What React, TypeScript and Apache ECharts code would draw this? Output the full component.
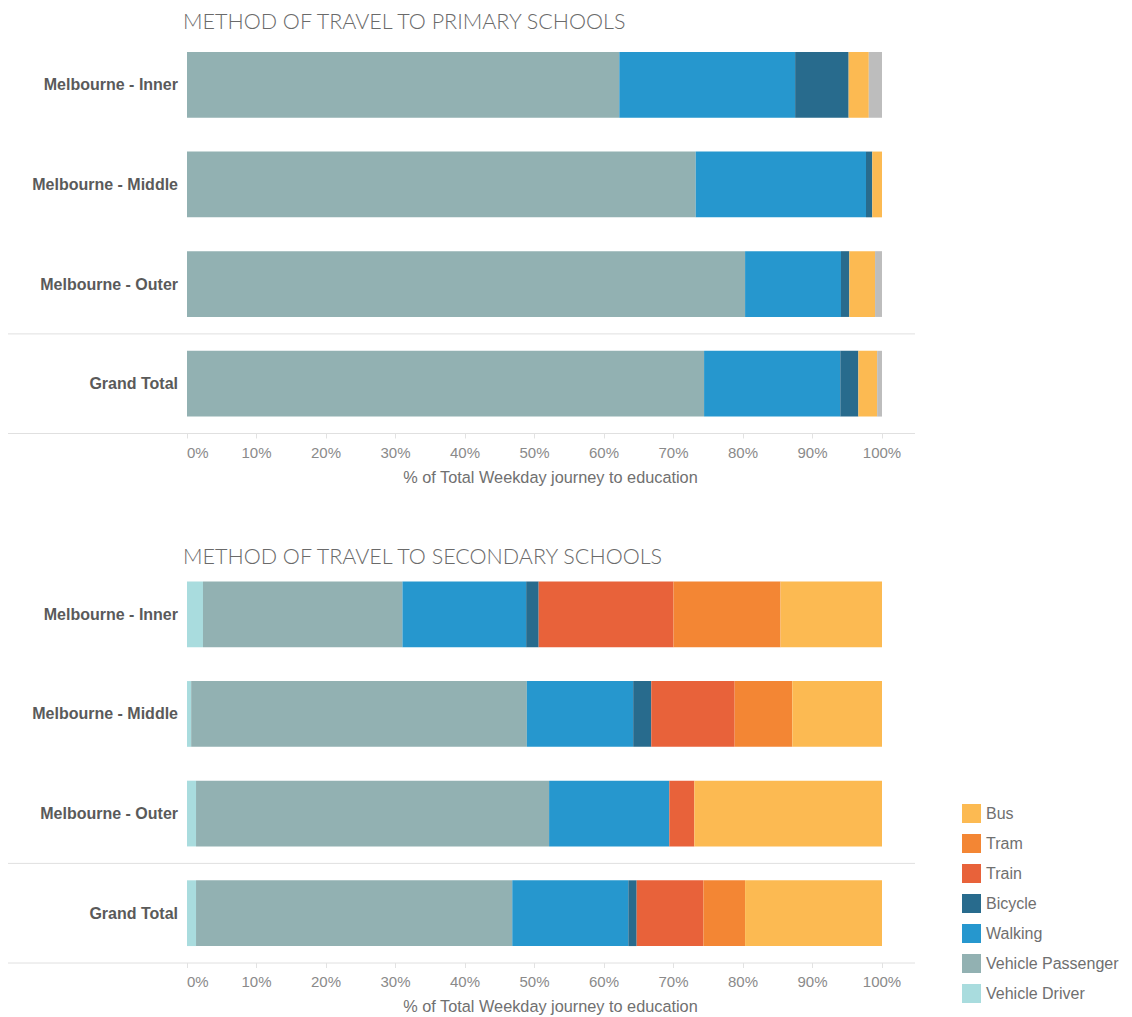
import React, { useEffect, useRef } from "react";
import * as echarts from "echarts";

const categories = ["Melbourne - Inner", "Melbourne - Middle", "Melbourne - Outer", "Grand Total"];
const modes = ["Vehicle Driver", "Vehicle Passenger", "Walking", "Bicycle", "Train", "Tram", "Bus", "Other"];
const legendOrder = ["Bus", "Tram", "Train", "Bicycle", "Walking", "Vehicle Passenger", "Vehicle Driver"];
const modeColors = ["#A9DCDE", "#92B1B2", "#2697CE", "#286B8D", "#E8623A", "#F38634", "#FCBA52", "#BDBDBD"];

// Primary schools (% of total weekday journeys)
const primaryDriver = [0, 0, 0, 0];
const primaryPassenger = [62.2, 73.2, 80.3, 74.4];
const primaryWalking = [25.3, 24.5, 13.8, 19.6];
const primaryBicycle = [7.7, 0.9, 1.2, 2.6];
const primaryTrain = [0, 0, 0, 0];
const primaryTram = [0, 0, 0, 0];
const primaryBus = [2.9, 1.4, 3.7, 2.7];
const primaryOther = [1.9, 0, 1.0, 0.7];

// Secondary schools
const secondaryDriver = [2.3, 0.6, 1.3, 1.3];
const secondaryPassenger = [28.7, 48.3, 50.8, 45.5];
const secondaryWalking = [17.8, 15.3, 17.3, 16.7];
const secondaryBicycle = [1.8, 2.6, 0, 1.2];
const secondaryTrain = [19.4, 12.0, 3.6, 9.6];
const secondaryTram = [15.4, 8.3, 0, 6.0];
const secondaryBus = [14.6, 12.9, 27.0, 19.7];
const secondaryOther = [0, 0, 0, 0];

const titles = ["METHOD OF TRAVEL TO PRIMARY SCHOOLS", "METHOD OF TRAVEL TO SECONDARY SCHOOLS"];
const axisTitle = "% of Total Weekday journey to education";

const primaryData = [primaryDriver, primaryPassenger, primaryWalking, primaryBicycle, primaryTrain, primaryTram, primaryBus, primaryOther];
const secondaryData = [secondaryDriver, secondaryPassenger, secondaryWalking, secondaryBicycle, secondaryTrain, secondaryTram, secondaryBus, secondaryOther];

export default function App() {
  const ref = useRef<HTMLDivElement>(null);
  useEffect(() => {
    if (!ref.current) return;
    const chart = echarts.init(ref.current, null, { renderer: "svg" });
    const gridTops = [35, 564.5];
    const gridH = 398.5;
    const font = "Liberation Sans, Arial, sans-serif";
    const xAxes = [0, 1].map((i) => ({
      type: "value",
      gridIndex: i,
      min: 0,
      max: 100,
      interval: 10,
      axisLine: { show: false },
      axisTick: { show: true, length: 5, lineStyle: { color: "#e2e2e2" } },
      splitLine: { show: false },
      axisLabel: {
        formatter: "{value}%",
        color: "#8a8a8a",
        fontSize: 15,
        fontFamily: font,
        margin: 11,
        alignMinLabel: "left",
      },
      name: axisTitle,
      nameLocation: "middle",
      nameGap: 35,
      nameTextStyle: { color: "#707070", fontSize: 16.3, fontFamily: font, padding: [0, 0, 0, 32] },
    }));
    const yAxes = [0, 1].map((i) => ({
      type: "category",
      gridIndex: i,
      data: categories,
      inverse: true,
      axisLine: { show: false },
      axisTick: { show: false },
      axisLabel: {
        color: "#5a5a5a",
        fontSize: 16,
        fontWeight: "bold",
        fontFamily: font,
        margin: 9,
      },
    }));
    const series: any[] = [];
    [primaryData, secondaryData].forEach((dataset, gi) => {
      modes.forEach((m, mi) => {
        series.push({
          type: "bar",
          name: m,
          stack: "s" + gi,
          xAxisIndex: gi,
          yAxisIndex: gi,
          data: dataset[mi],
          barCategoryGap: "34%",
          itemStyle: { color: modeColors[mi] },
          emphasis: { disabled: true },
        });
      });
    });
    const lineStyle = { stroke: "#e0e0e0", lineWidth: 1 };
    const graphicLines: any[] = [];
    gridTops.forEach((t) => {
      const rowH = gridH / 4;
      graphicLines.push({ type: "line", shape: { x1: 8, y1: t + rowH * 3, x2: 915, y2: t + rowH * 3 }, style: lineStyle, silent: true });
      graphicLines.push({ type: "line", shape: { x1: 8, y1: t + gridH, x2: 915, y2: t + gridH }, style: lineStyle, silent: true });
    });
    chart.setOption({
      animation: false,
      backgroundColor: "#fff",
      title: titles.map((t, i) => ({
        text: t,
        left: 178,
        top: i === 0 ? 5 : 540,
        textStyle: { color: "#6a6a6a", fontSize: 21.5, fontWeight: 300, fontFamily: "Lato, Open Sans, sans-serif" },
      })),
      legend: {
        data: legendOrder,
        orient: "vertical",
        left: 957,
        top: 799,
        itemWidth: 19,
        itemHeight: 19,
        itemGap: 11,
        icon: "rect",
        textStyle: { color: "#6f6f6f", fontSize: 16, fontFamily: font },
      },
      grid: gridTops.map((t) => ({ left: 187, width: 695, top: t, height: gridH })),
      xAxis: xAxes,
      yAxis: yAxes,
      series,
      graphic: graphicLines,
    });
    return () => chart.dispose();
  }, []);
  return <div ref={ref} style={{ position: "fixed", left: 0, top: 0, width: 1132, height: 1017, background: "#fff" }} />;
}
